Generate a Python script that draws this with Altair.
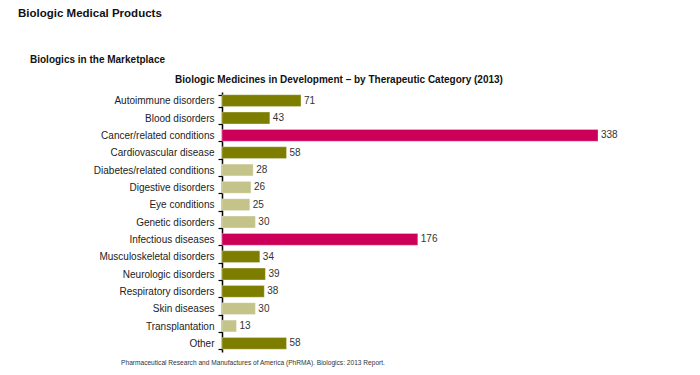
import altair as alt
import pandas as pd

categories = [
    "Autoimmune disorders", "Blood disorders", "Cancer/related conditions",
    "Cardiovascular disease", "Diabetes/related conditions", "Digestive disorders",
    "Eye conditions", "Genetic disorders", "Infectious diseases",
    "Musculoskeletal disorders", "Neurologic disorders", "Respiratory disorders",
    "Skin diseases", "Transplantation", "Other",
]
values = [71, 43, 338, 58, 28, 26, 25, 30, 176, 34, 39, 38, 30, 13, 58]
groups = ["dark", "dark", "hot", "dark", "light", "light", "light", "light", "hot",
          "dark", "dark", "dark", "light", "light", "dark"]
group_domain = ["dark", "light", "hot"]
group_colors = ["#7d7d00", "#c3c38a", "#cc0058"]

df = pd.DataFrame({"category": categories, "value": values, "group": groups})

FONT = "Liberation Sans"
W, H = 376, 260

y_enc = alt.Y("category:N", sort=categories, title=None,
              scale=alt.Scale(paddingInner=0.32, paddingOuter=0.16),
              axis=alt.Axis(tickBand="extent", domainColor="#000", domainWidth=1.5,
                            tickColor="#000", tickSize=4, tickWidth=1.2,
                            labelFont=FONT, labelFontSize=10, labelColor="#222",
                            labelPadding=4))
x_enc = alt.X("value:Q", scale=alt.Scale(domain=[0, 338], nice=False), axis=None)

bars = alt.Chart(df).mark_bar(stroke="#ffffff", strokeWidth=0.6, strokeOpacity=0.5).encode(
    y=y_enc, x=x_enc,
    color=alt.Color("group:N", scale=alt.Scale(domain=group_domain, range=group_colors), legend=None),
)
labels = alt.Chart(df).mark_text(align="left", baseline="middle", dx=3, font=FONT,
                                 fontSize=10, color="#333").encode(
    y=alt.Y("category:N", sort=categories), x="value:Q", text="value:Q")

heads = pd.DataFrame({
    "t": ["Biologic Medical Products", "Biologics in the Marketplace",
          "Biologic Medicines in Development \u2013 by Therapeutic Category (2013)",
          "Pharmaceutical Research and Manufactures of America (PhRMA). Biologics: 2013 Report."],
})

def head(i, x, y, size, weight, align="left", color="#111", baseline="middle"):
    return alt.Chart(heads.iloc[[i]]).mark_text(
        align=align, baseline=baseline, font=FONT, fontSize=size,
        fontWeight=weight, color=color).encode(
        text="t:N", x=alt.value(x), y=alt.value(y))

ox, oy = 222, 92
t1 = head(0, 18 - ox, 8 - oy, 11.5, "bold", baseline="top")
t2 = head(1, 30 - ox, 60 - oy, 10, "bold")
t3 = head(2, 339 - ox, 80 - oy, 10, "bold", align="center")
t4 = head(3, 253 - ox, 363 - oy, 6.6, "normal", align="center", color="#333")

chart = alt.layer(bars, labels, t1, t2, t3, t4).properties(
    width=W, height=H,
    background="#ffffff",
    autosize=alt.AutoSizeParams(type="none"),
    padding={"left": ox - 8, "top": oy - 8, "right": 700 - ox - W - 8, "bottom": 375 - oy - H - 8},
).configure_view(strokeWidth=0, stroke="transparent")

chart.save("out.html", embed_options={"renderer": "svg", "actions": False})
